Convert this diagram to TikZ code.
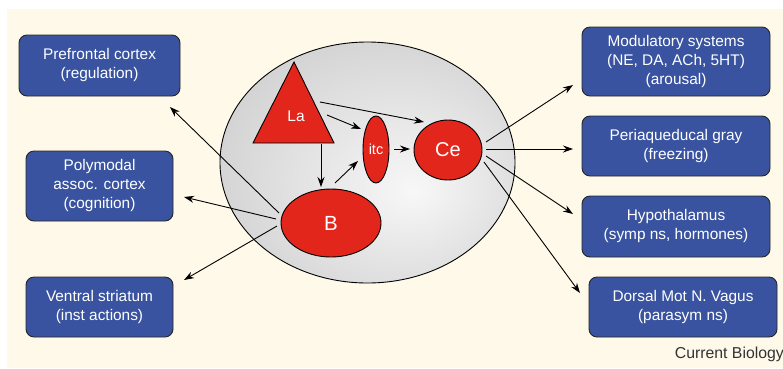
\documentclass[tikz,border=0pt]{standalone}
\usepackage{fontspec}
\setmainfont{Liberation Sans}
\usetikzlibrary{arrows.meta,shapes.geometric}
\definecolor{cream}{HTML}{FEF9E8}
\definecolor{boxblue}{HTML}{3953A0}
\definecolor{nucred}{HTML}{E2261B}
\definecolor{edgegray}{HTML}{B2B2B2}
\definecolor{captiongray}{HTML}{333333}
\pgfdeclareradialshading{amyg}{\pgfpoint{8bp}{-6bp}}{color(0bp)=(white!97!black); color(58bp)=(edgegray)}
\begin{document}
\begin{tikzpicture}[x=1pt,y=-1pt,
  regionbox/.style={draw=black!85, line width=0.9pt, fill=boxblue, rounded corners=8pt,
    text=white, align=center, font=\fontsize{15.4}{19}\selectfont, inner sep=0pt},
  nucleus/.style={draw=black, line width=0.9pt, fill=nucred, ellipse, text=white, inner sep=0pt},
  conn/.style={line width=0.9pt, -{Stealth[length=10pt,width=7pt]}}]
\useasboundingbox (0,0) rectangle (783,368);
\fill[cream] (7,9) rectangle (783,368);
% amygdala
\path[draw=black, line width=0.9pt, shading=amyg] (367.5,162.5) ellipse [x radius=147.5, y radius=120.5];
% nuclei
\draw[fill=nucred, line width=0.9pt] (294,62) -- (334,143) -- (253,143) -- cycle;
\node[text=white, font=\fontsize{15.5}{18}\selectfont] (La) at (296,116) {La};
\node[nucleus, minimum width=26pt, minimum height=67pt, font=\fontsize{14.5}{17}\selectfont] (itc) at (376,149.5) {itc};
\node[nucleus, minimum width=68pt, minimum height=60pt, font=\fontsize{20}{24}\selectfont] (Ce) at (448,150) {Ce};
\node[nucleus, minimum width=100pt, minimum height=68pt, font=\fontsize{20.5}{24}\selectfont] (B) at (331,223) {B};
% boxes
\node[regionbox, minimum width=161pt, minimum height=61pt] (pfc) at (99.5,65.5) {Prefrontal cortex\\(regulation)};
\node[regionbox, minimum width=147pt, minimum height=70pt] (poly) at (99.5,186) {Polymodal\\assoc. cortex\\(cognition)};
\node[regionbox, minimum width=147pt, minimum height=60pt] (vs) at (99.5,307) {Ventral striatum\\(inst actions)};
\node[regionbox, minimum width=188pt, minimum height=69pt] (mod) at (676,61.5) {Modulatory systems\\(NE, DA, ACh, 5HT)\\(arousal)};
\node[regionbox, minimum width=188pt, minimum height=60pt] (pag) at (676,146) {Periaqueducal gray\\(freezing)};
\node[regionbox, minimum width=188pt, minimum height=61pt] (hyp) at (676,226.5) {Hypothalamus\\(symp ns, hormones)};
\node[regionbox, minimum width=188pt, minimum height=60pt] (dmv) at (683,307) {Dorsal Mot N. Vagus\\(parasym ns)};
\node[text=captiongray, font=\fontsize{15.8}{18}\selectfont, anchor=east, inner sep=0pt] (cb) at (784,354) {Current Biology};
% connector end points
\coordinate (Bpfc) at (279,213);
\coordinate (Tpfc) at (170,107);
\coordinate (Bpoly) at (276,219);
\coordinate (Tpoly) at (184,197);
\coordinate (Bvs) at (277,226);
\coordinate (Tvs) at (184,280);
\coordinate (LaB) at (321,144);
\coordinate (TB) at (321,187);
\coordinate (Bitc) at (335,183);
\coordinate (Titc1) at (358,161);
\coordinate (Laitc) at (327,115);
\coordinate (Titc2) at (361,129);
\coordinate (LaCe) at (320,102);
\coordinate (TCe1) at (424,122);
\coordinate (itcCe) at (394,149);
\coordinate (TCe2) at (410,149);
\coordinate (Cemod) at (486,142);
\coordinate (Tmod) at (573,85);
\coordinate (Cepag) at (486,149);
\coordinate (Tpag) at (573,149);
\coordinate (Cehyp) at (486,156);
\coordinate (Thyp) at (573,214);
\coordinate (Cedmv) at (484,162);
\coordinate (Tdmv) at (580,293);
% connectors
\draw[conn] (Bpfc) -- (Tpfc);
\draw[conn] (Bpoly) -- (Tpoly);
\draw[conn] (Bvs) -- (Tvs);
\draw[conn] (LaB) -- (TB);
\draw[conn] (Bitc) -- (Titc1);
\draw[conn] (Laitc) -- (Titc2);
\draw[conn] (LaCe) -- (TCe1);
\draw[conn] (itcCe) -- (TCe2);
\draw[conn] (Cemod) -- (Tmod);
\draw[conn] (Cepag) -- (Tpag);
\draw[conn] (Cehyp) -- (Thyp);
\draw[conn] (Cedmv) -- (Tdmv);
\end{tikzpicture}
\end{document}
